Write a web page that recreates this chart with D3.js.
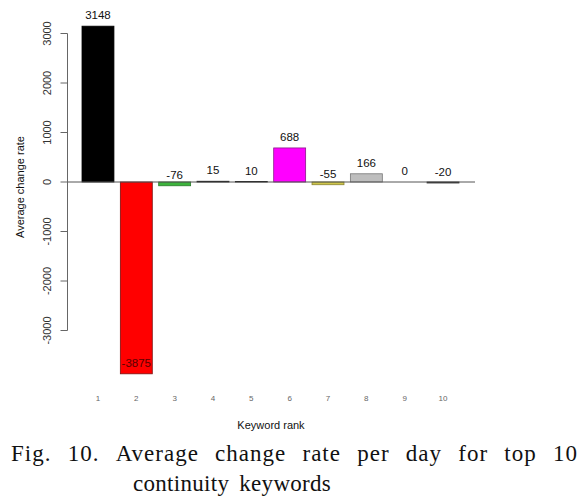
<!DOCTYPE html>
<html>
<head>
<meta charset="utf-8">
<script src="https://cdn.jsdelivr.net/npm/d3@7/dist/d3.min.js"></script>
<style>
  html, body { margin: 0; padding: 0; background: #fff; }
  svg { display: block; }
</style>
</head>
<body>
<svg id="chart" width="587" height="499"></svg>
<script>
// ---- data ----
const ranks = ["1", "2", "3", "4", "5", "6", "7", "8", "9", "10"];
const values = [3148, -3875, -76, 15, 10, 688, -55, 166, 0, -20];
const barFills = ["#000000", "#ff0000", "#3cb43c", "#1a1a80", "#1a6a6a", "#ff00ff", "#cfc64a", "#bebebe", "#000000", "#3a3a3a"];
const barStrokes = ["#000000", "#7a1010", "#2a7a2a", "#111111", "#111111", "#8a1a8a", "#8a8430", "#777777", "#000000", "#222222"];
const yTicks = [3000, 2000, 1000, 0, -1000, -2000, -3000];
const xTitle = "Keyword rank";
const yTitle = "Average change rate";
const captionLine1 = ["Fig.", "10.", "Average", "change", "rate", "per", "day", "for", "top", "10"];
const captionLine2 = ["continuity", "keywords"];

const svg = d3.select("#chart");
const sans = "'Liberation Sans', Arial, Helvetica, sans-serif";
const serif = "'Liberation Serif', 'Times New Roman', serif";

// ---- scales ----
const y = d3.scaleLinear().domain([3000, -3000]).range([33.5, 330.5]);
const x = d3.scaleBand().domain(ranks).range([82, 459]).paddingInner(1 / 6).paddingOuter(0);

// ---- bars ----
svg.append("g").selectAll("rect")
  .data(values)
  .join("rect")
  .attr("x", (d, i) => x(ranks[i]))
  .attr("width", x.bandwidth())
  .attr("y", d => Math.min(y(d), y(0)))
  .attr("height", d => Math.abs(y(d) - y(0)))
  .attr("fill", (d, i) => barFills[i])
  .attr("stroke", (d, i) => barStrokes[i])
  .attr("stroke-width", 0.8);

// zero line
svg.append("line")
  .attr("x1", 67).attr("x2", 475)
  .attr("y1", y(0)).attr("y2", y(0))
  .attr("stroke", "#555").attr("stroke-width", 1);

// ---- y axis ----
const yAxis = d3.axisLeft(y).tickValues(yTicks).tickSize(7).tickFormat(d => String(d));
const gy = svg.append("g").attr("transform", "translate(67.5,0)").call(yAxis);
gy.select(".domain").attr("stroke", "#666").attr("d", `M0,${y(3000)}V${y(-3000)}`);
gy.selectAll(".tick").attr("transform", null);
gy.selectAll(".tick line").attr("stroke", "#666")
  .attr("y1", d => y(d)).attr("y2", d => y(d)).attr("x2", -7);
gy.selectAll(".tick text")
  .attr("font-family", sans).attr("font-size", 11).attr("fill", "#333")
  .attr("transform", d => `translate(-20,${y(d)}) rotate(-90)`)
  .attr("x", 0).attr("y", 0).attr("dy", "0.35em")
  .attr("text-anchor", "middle");

// ---- x tick labels ----
svg.append("g").selectAll("text")
  .data(ranks)
  .join("text")
  .attr("x", d => x(d) + x.bandwidth() / 2)
  .attr("y", 401)
  .attr("text-anchor", "middle")
  .attr("font-family", sans).attr("font-size", 8).attr("fill", "#666")
  .text(d => d);

// ---- value labels ----
svg.append("g").selectAll("text")
  .data(values)
  .join("text")
  .attr("x", (d, i) => x(ranks[i]) + x.bandwidth() / 2)
  .attr("y", d => y(d) - 7)
  .attr("text-anchor", "middle")
  .attr("font-family", sans).attr("font-size", 11.5).attr("fill", (d, i) => i === 1 ? "#5a0000" : "#111")
  .text(d => String(d));

// ---- titles ----
svg.append("text")
  .attr("x", 271).attr("y", 429)
  .attr("text-anchor", "middle")
  .attr("font-family", sans).attr("font-size", 11).attr("fill", "#111")
  .text(xTitle);

svg.append("text")
  .attr("transform", "translate(24,187) rotate(-90)")
  .attr("text-anchor", "middle")
  .attr("font-family", sans).attr("font-size", 11).attr("fill", "#111")
  .text(yTitle);

// ---- caption (justified first line) ----
function placeWords(words, left, right, baseline, gapFixed, spacing) {
  const g = svg.append("g");
  const nodes = words.map(w => g.append("text")
    .attr("y", baseline)
    .attr("font-family", serif).attr("font-size", 23).attr("fill", "#111")
    .attr("letter-spacing", spacing)
    .text(w));
  const widths = nodes.map(n => n.node().getComputedTextLength());
  const total = d3.sum(widths);
  const gap = gapFixed != null ? gapFixed : (right - left - total) / (words.length - 1);
  let cx = left;
  nodes.forEach((n, i) => { n.attr("x", cx); cx += widths[i] + gap; });
}
placeWords(captionLine1, 11, 578, 461, null, 1);
placeWords(captionLine2, 133, null, 491, 10, 0.3);
</script>
</body>
</html>
